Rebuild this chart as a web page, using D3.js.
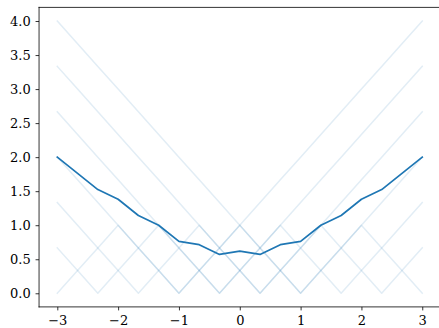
<!DOCTYPE html>
<html>
<head>
<meta charset="utf-8">
<script src="https://cdn.jsdelivr.net/npm/d3@7"></script>
<style>
  html, body { margin: 0; padding: 0; background: #fff; overflow: hidden; }
  svg { display: block; }
</style>
</head>
<body>
<script>
// Sample positions shared by every curve
const xGrid = [-3.0000, -2.6667, -2.3333, -2.0000, -1.6667, -1.3333, -1.0000, -0.6667, -0.3333, 0.0000,
                0.3333,  0.6667,  1.0000,  1.3333,  1.6667,  2.0000,  2.3333,  2.6667,  3.0000];

// Individual distance curves (drawn faint)
const curveA = [4.000, 3.667, 3.333, 3.000, 2.667, 2.333, 2.000, 1.667, 1.333, 1.000, 0.667, 0.333, 0.000, 0.333, 0.667, 1.000, 1.333, 1.667, 2.000];
const curveB = [2.000, 1.667, 1.333, 1.000, 0.667, 0.333, 0.000, 0.333, 0.667, 1.000, 1.333, 1.667, 2.000, 2.333, 2.667, 3.000, 3.333, 3.667, 4.000];
const curveC = [3.333, 3.000, 2.667, 2.333, 2.000, 1.667, 1.333, 1.000, 0.667, 0.333, 0.000, 0.333, 0.667, 1.000, 1.333, 1.667, 2.000, 2.333, 2.667];
const curveD = [2.667, 2.333, 2.000, 1.667, 1.333, 1.000, 0.667, 0.333, 0.000, 0.333, 0.667, 1.000, 1.333, 1.667, 2.000, 2.333, 2.667, 3.000, 3.333];
const curveE = [1.333, 1.000, 0.667, 0.333, 0.000, 0.333, 0.667, 1.000, 0.667, 0.333, 0.000, 0.333, 0.667, 1.000, 0.667, 0.333, 0.000, 0.333, 0.667];
const curveF = [0.667, 0.333, 0.000, 0.333, 0.667, 1.000, 0.667, 0.333, 0.000, 0.333, 0.667, 1.000, 0.667, 0.333, 0.000, 0.333, 0.667, 1.000, 1.333];
const curveG = [0.000, 0.333, 0.667, 1.000, 0.667, 0.333, 0.000, 0.333, 0.667, 1.000, 0.667, 0.333, 0.000, 0.333, 0.667, 1.000, 0.667, 0.333, 0.000];

// Average of the curves above (drawn solid)
const meanCurve = [2.000, 1.762, 1.524, 1.381, 1.143, 1.000, 0.762, 0.714, 0.571, 0.619, 0.571, 0.714, 0.762, 1.000, 1.143, 1.381, 1.524, 1.762, 2.000];

const xTicks = [-3, -2, -1, 0, 1, 2, 3];
const yTicks = [0.0, 0.5, 1.0, 1.5, 2.0, 2.5, 3.0, 3.5, 4.0];

const W = 439, H = 328;
const FONT = "'DejaVu Serif', 'Liberation Serif', serif";
const FS = 13;
const BLUE = "#1f77b4";

const svg = d3.select("body").append("svg")
  .attr("width", W).attr("height", H);

// Plot box (right edge falls just past the window)
const boxL = 39.05, boxR = 440.5, boxT = 7.4, boxB = 306.9;

const x = d3.scaleLinear().domain([-3.3, 3.3]).range([boxL, boxR]);
const y = d3.scaleLinear().domain([-0.2, 4.2]).range([boxB, boxT]);

svg.append("defs").append("clipPath").attr("id", "plotClip")
  .append("rect").attr("x", boxL).attr("y", boxT)
  .attr("width", boxR - boxL).attr("height", boxB - boxT);

const line = d3.line()
  .x((d, i) => x(xGrid[i]))
  .y(d => y(d));

const plot = svg.append("g").attr("clip-path", "url(#plotClip)");

[curveA, curveB, curveC, curveD, curveE, curveF, curveG].forEach(c => {
  plot.append("path")
    .datum(c)
    .attr("d", line)
    .attr("fill", "none")
    .attr("stroke", BLUE)
    .attr("stroke-opacity", 0.13)
    .attr("stroke-width", 1.5)
    .attr("stroke-linejoin", "round")
    .attr("stroke-linecap", "square");
});

plot.append("path")
  .datum(meanCurve)
  .attr("d", line)
  .attr("fill", "none")
  .attr("stroke", BLUE)
  .attr("stroke-width", 1.7)
  .attr("stroke-linejoin", "round")
  .attr("stroke-linecap", "square");

const minus = s => s.replace("-", "\u2212");

// Axes
const xAxis = d3.axisBottom(x)
  .tickValues(xTicks)
  .tickSize(3.5)
  .tickSizeOuter(0)
  .tickPadding(5)
  .tickFormat(d => minus(d3.format("d")(d)));

const yAxis = d3.axisLeft(y)
  .tickValues(yTicks)
  .tickSize(3.5)
  .tickSizeOuter(0)
  .tickPadding(4.8)
  .tickFormat(d => minus(d3.format(".1f")(d)));

const gx = svg.append("g").attr("transform", `translate(0,${boxB})`).call(xAxis);
const gy = svg.append("g").attr("transform", `translate(${boxL},0)`).call(yAxis);

[gx, gy].forEach(g => {
  g.select(".domain").remove();
  g.selectAll(".tick line").attr("stroke", "#000").attr("stroke-width", 0.8);
  g.selectAll(".tick text")
    .attr("fill", "#000")
    .style("font-family", FONT)
    .style("font-size", FS + "px");
});

// Frame
const frame = svg.append("g")
  .attr("fill", "none").attr("stroke", "#000").attr("stroke-width", 0.8)
  .attr("stroke-linecap", "square");
frame.append("line").attr("x1", boxL).attr("x2", boxL).attr("y1", boxT).attr("y2", boxB);
frame.append("line").attr("x1", boxL).attr("x2", boxR).attr("y1", boxB).attr("y2", boxB);
frame.append("line").attr("x1", boxL).attr("x2", boxR).attr("y1", boxT).attr("y2", boxT);
frame.append("line").attr("x1", boxR).attr("x2", boxR).attr("y1", boxT).attr("y2", boxB);
</script>
</body>
</html>
